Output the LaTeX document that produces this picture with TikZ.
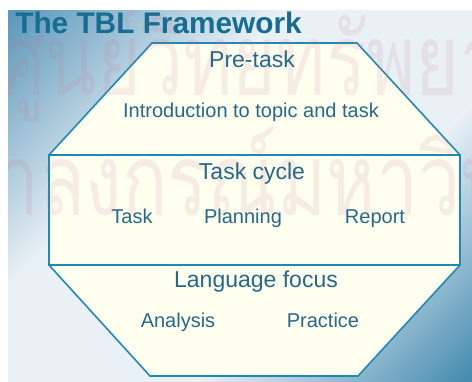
\documentclass[tikz,border=0pt]{standalone}
\usepackage{fontspec}
\setmainfont{Liberation Sans}
\newfontfamily\thaifont[Script=Thai]{Loma}
\usetikzlibrary{positioning,calc}
\definecolor{tblBlue}{RGB}{30,138,180}
\definecolor{tblTitle}{RGB}{22,108,145}
\definecolor{tblText}{RGB}{38,104,138}
\definecolor{tblCream}{RGB}{255,255,240}
\definecolor{bgTL}{RGB}{92,152,186}
\definecolor{bgMid}{RGB}{234,241,246}
\definecolor{bgBR}{RGB}{70,140,176}
\definecolor{wmPink}{RGB}{200,110,140}
\pgfdeclarehorizontalshading{tblback}{100bp}{color(0bp)=(bgTL); color(15bp)=(bgTL);
  color(38bp)=(bgMid); color(62bp)=(bgMid); color(85bp)=(bgBR); color(100bp)=(bgBR)}
\tikzset{
  every picture/.append style={line width=0.6pt},
}

\begin{document}
\begin{tikzpicture}[
  x=1pt, y=-1pt,
  frame/.style   ={draw=tblBlue, fill=tblCream, line width=1.6pt, line join=miter},
  band/.style    ={draw=tblBlue, line width=2.6pt},
  tbltitle/.style={anchor=base west, inner sep=0pt, text=tblTitle, font=\bfseries\fontsize{29.8}{34}\selectfont},
  head/.style    ={anchor=base, inner sep=0pt, text=tblText, font=\fontsize{23}{27}\selectfont},
  item/.style    ={anchor=base, inner sep=0pt, text=tblText, font=\fontsize{20}{24}\selectfont},
  watermark/.style={anchor=base west, inner sep=0pt, text=wmPink, text opacity=0.13,
                    xscale=0.75, transform shape,
                    font=\thaifont\fontsize{100}{110}\selectfont}
]

% page with shaded background
\useasboundingbox (0,0) rectangle (472,381);
\fill[white] (0,0) rectangle (472,381);
\shade[shading=tblback, shading angle=-45] (8,10) rectangle (472,381);

% octagon corners
\coordinate (ntl) at (152,43);
\coordinate (ntr) at (357,43);
\coordinate (etop) at (460,155);
\coordinate (ebot) at (460,265);
\coordinate (sbr) at (358,376);
\coordinate (sbl) at (150,376);
\coordinate (wbot) at (49,265);
\coordinate (wtop) at (49,155);

% framework shape and the task cycle band
\draw[frame] (ntl) -- (ntr) -- (etop) -- (ebot) -- (sbr) -- (sbl) -- (wbot) -- (wtop) -- cycle;
\draw[band] (wtop) rectangle (ebot);

% faint watermark
\begin{scope}
  \clip (8,10) rectangle (472,381);
  \node[watermark] (wmtop) at (-2,95) {ศูนย์วิทยทรัพยากร};
  \node[watermark] (wmbot) at (-98,215) {จุฬาลงกรณ์มหาวิทยาลัย};
\end{scope}

% title
\node[tbltitle] (title) at (15,33) {The TBL Framework};

% pre-task
\node[head] (pretask) at (252,67) {Pre-task};
\node[item] (intro) at (251,117) {Introduction to topic and task};

% task cycle
\node[head] (cycle) at (252,179) {Task cycle};
\node[item] (task) at (132,223) {Task};
\node[item] (planning) at (243,223) {Planning};
\node[item] (report) at (375,223) {Report};

% language focus
\node[head] (focus) at (256,287) {Language focus};
\node[item] (analysis) at (178,327) {Analysis};
\node[item] (practice) at (323,327) {Practice};

\end{tikzpicture}
\end{document}
